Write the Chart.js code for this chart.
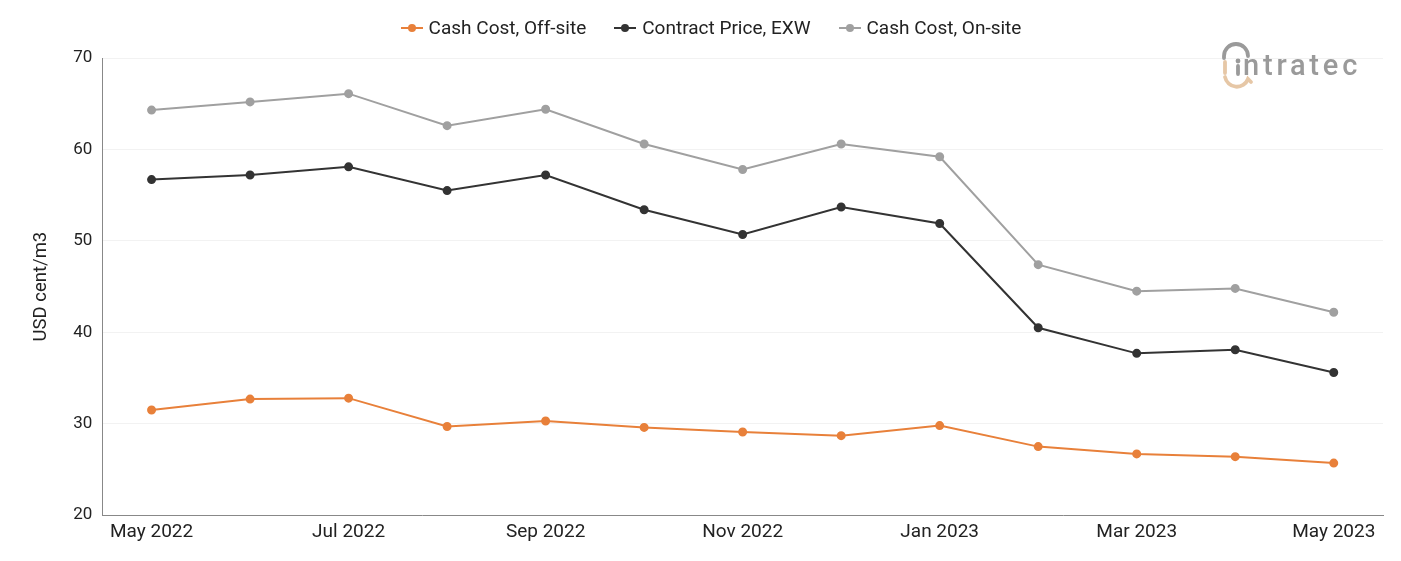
<!DOCTYPE html>
<html>
<head>
<meta charset="utf-8">
<script src="https://cdn.jsdelivr.net/npm/chart.js@4"></script>
<style>
  html, body { margin: 0; padding: 0; background: #fff; }
  #wrap { position: relative; width: 1401px; height: 561px; font-family: Roboto, sans-serif; }
  #legenda { position: absolute; left: 0; top: 16px; width: 1401px; display: flex; justify-content: center; padding-left: 21px; box-sizing: border-box; }
  .item { display: flex; align-items: center; margin: 0 14px; font-size: 19px; color: #222; line-height: 24px; }
  .icone { position: relative; width: 22px; height: 10px; margin-right: 6px; }
  .icone .l { position: absolute; left: 0; right: 0; top: 4px; height: 2px; }
  .icone .p { position: absolute; left: 7px; top: 1px; width: 8px; height: 8px; border-radius: 50%; }
  #logo { position: absolute; left: 1215px; top: 36px; }
</style>
</head>
<body>
<div id="wrap">
  <canvas id="grafico" width="1401" height="561"></canvas>
  <div id="legenda"></div>
  <svg id="logo" width="170" height="64" viewBox="0 0 170 64">
    <path d="M9 22 L9 20 A12 12 0 0 1 33 20" fill="none" stroke="#9a9a9a" stroke-width="3.8" stroke-linecap="round"/>
    <circle cx="23" cy="25" r="2.4" fill="#9a9a9a"/>
    <path d="M23 30 L23 38" fill="none" stroke="#9a9a9a" stroke-width="3.8" stroke-linecap="round"/>
    <path d="M10 26 L10 37" fill="none" stroke="#e6c7a6" stroke-width="3.8" stroke-linecap="round"/>
    <path d="M10 41 A12 12 0 0 0 33 43 L36 46" fill="none" stroke="#e6c7a6" stroke-width="3.8" stroke-linecap="round"/>
    <text x="28" y="39" font-family="Roboto, sans-serif" font-size="29" font-weight="500" fill="#9a9a9a" letter-spacing="3.8">ntratec</text>
  </svg>
</div>
<script>
// dados
const meses = ['May 2022', 'Jun 2022', 'Jul 2022', 'Aug 2022', 'Sep 2022', 'Oct 2022', 'Nov 2022',
  'Dec 2022', 'Jan 2023', 'Feb 2023', 'Mar 2023', 'Apr 2023', 'May 2023'];
const offSite = [31.5, 32.7, 32.8, 29.7, 30.3, 29.6, 29.1, 28.7, 29.8, 27.5, 26.7, 26.4, 25.7];
const contrato = [56.7, 57.2, 58.1, 55.5, 57.2, 53.4, 50.7, 53.7, 51.9, 40.5, 37.7, 38.1, 35.6];
const onSite = [64.3, 65.2, 66.1, 62.6, 64.4, 60.6, 57.8, 60.6, 59.2, 47.4, 44.5, 44.8, 42.2];
const nomes = ['Cash Cost, Off-site', 'Contract Price, EXW', 'Cash Cost, On-site'];
const cores = ['#e8803a', '#333333', '#a0a0a0'];

function serie(nome, valores, cor) {
  return {
    label: nome,
    data: valores,
    borderColor: cor,
    backgroundColor: cor,
    borderWidth: 2,
    pointRadius: 3.5,
    pointHoverRadius: 4,
    tension: 0
  };
}

Chart.defaults.font.family = 'Roboto, sans-serif';
Chart.defaults.color = '#222';

const grafico = new Chart(document.getElementById('grafico'), {
  type: 'line',
  data: {
    labels: meses,
    datasets: [
      serie(nomes[0], offSite, cores[0]),
      serie(nomes[1], contrato, cores[1]),
      serie(nomes[2], onSite, cores[2])
    ]
  },
  options: {
    responsive: false,
    animation: false,
    layout: { padding: { left: 26, right: 18, top: 58, bottom: 11 } },
    plugins: {
      tooltip: { enabled: false },
      legend: { display: false }
    },
    scales: {
      x: {
        offset: true,
        grid: { display: false, drawTicks: false },
        border: { color: '#888', width: 1 },
        ticks: {
          autoSkip: false,
          maxRotation: 0,
          padding: 6,
          font: { size: 19 },
          color: '#222',
          callback: function (v, i) { return i % 2 === 0 ? this.getLabelForValue(v) : null; }
        }
      },
      y: {
        min: 20,
        max: 70,
        ticks: { stepSize: 10, padding: 10, font: { size: 17 }, color: '#222' },
        grid: { color: '#f2f2f2', drawTicks: false },
        border: { color: '#888', width: 1 },
        title: { display: true, text: 'USD cent/m3', font: { size: 18.5 }, color: '#222', padding: { bottom: 11 } }
      }
    }
  }
});

// legenda em HTML a partir dos datasets
const legenda = document.getElementById('legenda');
grafico.data.datasets.forEach(ds => {
  const item = document.createElement('div');
  item.className = 'item';
  item.innerHTML = '<span class="icone"><span class="l" style="background:' + ds.borderColor +
    '"></span><span class="p" style="background:' + ds.borderColor + '"></span></span>' + ds.label;
  legenda.appendChild(item);
});
</script>
</body>
</html>
